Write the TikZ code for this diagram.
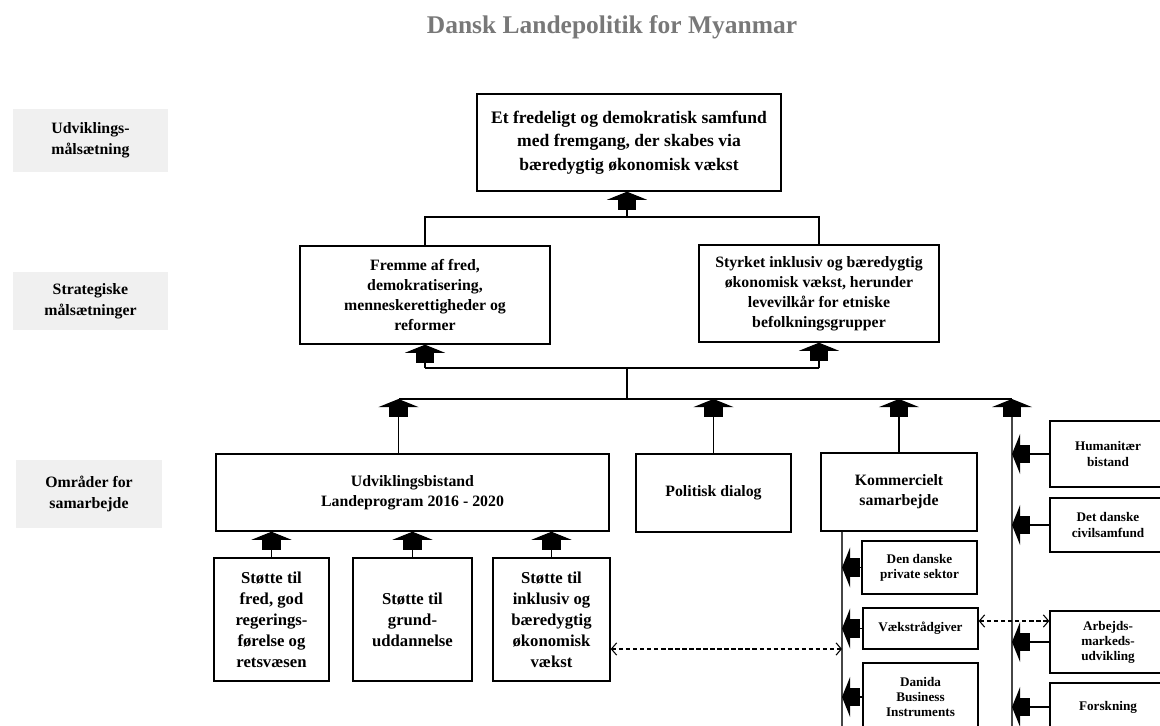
\documentclass[tikz,border=0pt]{standalone}
\usepackage{fontspec}
\setmainfont{Liberation Serif}
\usepackage{tikz}
\usetikzlibrary{arrows.meta, calc}
\definecolor{cTitle}{RGB}{120,120,120}
\definecolor{cLabel}{RGB}{240,240,240}
\definecolor{cBus}{RGB}{70,70,70}
\tikzset{
	lvl/.style ={rectangle, fill=cLabel, align=center, inner sep=2pt, font=\bfseries\fontsize{9}{12}\selectfont},
	blk/.style ={rectangle, draw=black, line width=0.8pt, fill=white, align=center, inner sep=2pt, font=\bfseries\fontsize{9}{11.3}\selectfont},
	subblk/.style ={blk, font=\bfseries\fontsize{7.5}{8.6}\selectfont},
	% connector styles
	wire/.style ={line width=0.7pt},
	bus/.style ={line width=1.1pt, cBus},
	fat/.style ={wire, -{Rectangle[length=5.7pt, width=10.8pt, sep=0pt, black] Triangle[length=4.6pt, width=22.7pt, black]}},
	link/.style ={line width=0.6pt, dash pattern=on 2.5pt off 1.5pt, {Straight Barb[length=3pt, width=7pt]}-{Straight Barb[length=3pt, width=7pt]}},
}
\begin{document}
\begin{tikzpicture}[x=0.02cm, y=-0.02cm]
	\useasboundingbox (0,0) rectangle (1160,726);
	\clip (0,0) rectangle (1160,726);
	\node[font=\bfseries\fontsize{14.5}{17}\selectfont, text=cTitle] (title) at (612,27) {Dansk Landepolitik for Myanmar};
	% level labels
	\node[lvl, minimum width=3.1cm, minimum height=1.26cm] (lvlGoal) at (90.5,140.5) {Udviklings-\\målsætning};
	\node[lvl, minimum width=3.1cm, minimum height=1.16cm] (lvlStrat) at (90.5,301) {Strategiske\\målsætninger};
	\node[lvl, minimum width=2.92cm, minimum height=1.36cm] (lvlArea) at (89,494) {Områder for\\samarbejde};
	% goals
	\node[blk, font=\bfseries\fontsize{10}{13.3}\selectfont, minimum width=6.08cm, minimum height=1.94cm] (goal) at (629,142.5) {Et fredeligt og demokratisk samfund\\med fremgang, der skabes via\\bæredygtig økonomisk vækst};
	\node[blk, minimum width=5cm, minimum height=1.96cm] (strat1) at (425,295) {Fremme af fred,\\demokratisering,\\menneskerettigheder og\\reformer};
	\node[blk, minimum width=4.8cm, minimum height=1.94cm] (strat2) at (819,293.5) {Styrket inklusiv og bæredygtig\\økonomisk vækst, herunder\\levevilkår for etniske\\befolkningsgrupper};
	% areas
	\node[blk, minimum width=7.86cm, minimum height=1.54cm] (udv) at (412.5,492.5) {Udviklingsbistand\\Landeprogram 2016 - 2020};
	\node[blk, minimum width=3.1cm, minimum height=1.56cm] (pol) at (713.5,493) {Politisk dialog};
	\node[blk, minimum width=3.12cm, minimum height=1.56cm] (komm) at (899,492) {Kommercielt\\samarbejde};
	\node[blk, font=\bfseries\fontsize{9.5}{12}\selectfont, minimum width=2.3cm, minimum height=2.46cm] (st1) at (271.5,619.5) {Støtte til\\fred, god\\regerings-\\førelse og\\retsvæsen};
	\node[blk, font=\bfseries\fontsize{9.5}{12}\selectfont, minimum width=2.38cm, minimum height=2.46cm] (st2) at (412.5,619.5) {Støtte til\\grund-\\uddannelse};
	\node[blk, font=\bfseries\fontsize{9.5}{12}\selectfont, minimum width=2.34cm, minimum height=2.46cm] (st3) at (551.5,619.5) {Støtte til\\inklusiv og\\bæredygtig\\økonomisk\\vækst};
	\node[subblk, minimum width=2.3cm, minimum height=1.06cm] (priv) at (919.5,567.5) {Den danske\\private sektor};
	\node[subblk, minimum width=2.3cm, minimum height=0.82cm] (vaekst) at (920.5,628.5) {Vækstrådgiver};
	\node[subblk, minimum width=2.3cm, minimum height=1.36cm] (danida) at (920.5,697) {Danida\\Business\\Instruments};
	\node[subblk, minimum width=2.32cm, minimum height=1.32cm] (hum) at (1108,454) {Humanitær\\bistand};
	\node[subblk, minimum width=2.32cm, minimum height=1.08cm] (civ) at (1108,525) {Det danske\\civilsamfund};
	\node[subblk, minimum width=2.32cm, minimum height=1.24cm] (arb) at (1108,642) {Arbejds-\\markeds-\\udvikling};
	\node[subblk, minimum width=2.32cm, minimum height=0.96cm] (forsk) at (1108,707) {Forskning};
	% junctions
	\coordinate (j1) at (627,217);
	\coordinate (j2) at (627,368);
	\coordinate (j3) at (627,399);
	\coordinate (kbot) at (842,740);
	\coordinate (rbot) at (1012,740);
	\coordinate (uTop) at ($(udv.north)+(-14,0)$);
	\draw[wire] (strat1.north) |- (j1) -| (strat2.north);
	\draw[fat] (j1) -- (j1 |- goal.south);
	\draw[wire] (strat1.south |- j2) -- (strat2.south |- j2);
	\draw[fat] (strat1.south |- j2) -- (strat1.south);
	\draw[fat] (strat2.south |- j2) -- (strat2.south);
	\draw[wire] (j2) -- (j3);
	\draw[wire] (uTop |- j3) -- (rbot |- j3);
	\draw[fat] (uTop) -- (uTop |- j3);
	\draw[fat] (pol.north) -- (pol.north |- j3);
	\draw[fat] (komm.north) -- (komm.north |- j3);
	\draw[bus, fat] (rbot) -- (rbot |- j3);
	\draw[bus] (komm.south -| kbot) -- (kbot);
	\foreach \s in {st1, st2, st3} \draw[fat] (\s.north) -- (\s.north |- udv.south);
	\foreach \s in {priv, vaekst, danida} \draw[fat] (\s.west) -- (\s.west -| kbot);
	\foreach \s in {hum, civ, arb, forsk} \draw[fat] (\s.west) -- (\s.west -| rbot);
	\coordinate (d1) at ($(st3.east)+(0,29.5)$);
	\coordinate (d2) at ($(vaekst.east)+(0,-7.5)$);
	\draw[link] (d1) -- (d1 -| kbot);
	\draw[link] (d2) -- (d2 -| arb.west);
\end{tikzpicture}
\end{document}
